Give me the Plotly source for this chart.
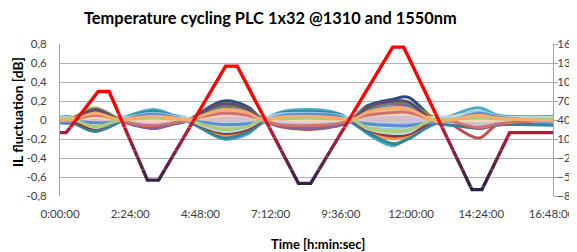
import plotly.graph_objects as go

# ---------------- data ----------------
time_h = [0, 0.4, 1.2, 2.05, 2.5, 3.2, 3.9, 4.4, 4.8, 5.6, 6.4, 6.95,
          7.5, 8.5, 9.5, 9.95, 10.5, 11.4, 11.9, 12.8, 13.2, 14.3, 15.0, 16.85]

il_ch01 = [0.01,0.01,0.11,0.0,0.02,0.03,0.02,0.0,0.08,0.20,0.14,0.01,0.02,0.03,0.02,0.01,0.15,0.22,0.24,0.01,0.01,0.04,0.02,0.01]
il_ch02 = [0.03,0.03,-0.10,0.01,0.06,0.11,0.05,0.01,-0.08,-0.20,-0.15,-0.01,0.08,0.11,0.07,0.0,-0.14,-0.27,-0.18,-0.04,0.02,0.13,0.05,0.04]
il_ch03 = [0.01,0.02,0.13,0.01,0.01,0.02,0.01,0.0,0.07,0.17,0.12,0.01,0.02,0.02,0.01,0.01,0.13,0.19,0.18,0.02,0.02,0.03,0.02,0.02]
il_ch04 = [0.0,0.0,-0.12,0.0,0.03,0.05,0.03,0.0,-0.07,-0.16,-0.12,0.0,0.04,0.05,0.04,0.0,-0.12,-0.20,-0.17,0.0,0.01,0.06,0.03,0.0]
il_ch05 = [-0.01,-0.01,-0.06,-0.01,-0.05,-0.09,-0.04,-0.01,-0.04,-0.10,-0.07,-0.01,-0.07,-0.10,-0.06,-0.01,-0.07,-0.12,-0.11,-0.02,-0.02,-0.19,-0.04,-0.02]
il_ch06 = [-0.02,-0.02,0.09,-0.01,-0.05,-0.08,-0.04,-0.01,0.06,0.14,0.10,-0.01,-0.06,-0.08,-0.06,-0.01,0.11,0.17,0.15,-0.03,-0.03,-0.09,-0.05,-0.03]
il_ch07 = [-0.03,-0.03,0.08,-0.01,0.0,0.0,0.0,-0.01,0.05,0.12,0.08,-0.02,0.0,0.0,0.0,-0.02,0.09,0.14,0.13,-0.03,-0.03,0.0,0.0,-0.03]
il_ch08 = [-0.03,-0.03,-0.12,-0.02,0.05,0.09,0.04,-0.02,-0.08,-0.19,-0.13,-0.02,0.07,0.09,0.06,-0.02,-0.13,-0.25,-0.20,-0.04,-0.05,-0.08,-0.05,-0.055]
il_ch09 = [0.01,0.02,0.11,0.01,-0.02,-0.03,-0.02,0.01,0.06,0.16,0.11,0.01,-0.02,-0.03,-0.02,0.01,0.12,0.19,0.18,0.02,0.02,-0.04,-0.02,0.02]
il_ch10 = [0.02,0.02,0.07,0.01,0.04,0.06,0.03,0.01,0.04,0.10,0.07,0.01,0.05,0.06,0.04,0.01,0.08,0.12,0.11,0.03,0.03,0.08,0.04,0.03]
il_ch11 = [-0.01,-0.01,-0.09,0.0,-0.04,-0.06,-0.03,0.0,-0.06,-0.14,-0.10,-0.01,-0.05,-0.06,-0.04,-0.01,-0.10,-0.17,-0.15,-0.01,-0.01,-0.08,-0.04,-0.01]
il_ch12 = [-0.01,-0.01,0.11,-0.01,-0.03,-0.05,-0.03,-0.01,0.07,0.17,0.12,-0.01,-0.04,-0.05,-0.04,-0.01,0.13,0.20,0.19,-0.02,-0.02,-0.07,-0.03,-0.02]
il_ch13 = [0.0,0.0,0.04,0.0,0.02,0.04,0.02,0.0,0.02,0.06,0.04,0.0,0.03,0.04,0.03,0.0,0.05,0.07,0.07,0.01,0.01,0.05,0.02,0.01]
il_ch14 = [0.0,0.0,0.03,0.0,-0.01,-0.02,-0.01,0.0,0.02,0.04,0.03,0.0,-0.02,-0.02,-0.01,0.0,0.03,0.05,0.04,-0.01,-0.01,-0.03,-0.01,-0.01]
il_ch15 = [0.01,0.01,0.01,0.01,0.01,0.02,0.01,0.01,0.01,0.02,0.01,0.01,0.02,0.02,0.01,0.01,0.02,0.02,0.02,0.02,0.02,0.03,0.01,0.02]
il_ch16 = [-0.01,-0.01,-0.03,0.0,-0.02,-0.03,-0.02,0.0,-0.02,-0.04,-0.03,-0.01,-0.02,-0.03,-0.02,-0.01,-0.03,-0.05,-0.04,-0.01,-0.01,-0.04,-0.02,-0.01]
il_ch17 = [0.01,0.02,-0.05,0.01,0.04,0.07,0.04,0.01,-0.03,-0.08,-0.06,0.01,0.06,0.07,0.05,0.01,-0.06,-0.10,-0.09,0.02,0.02,0.09,0.04,0.02]
il_ch18 = [0.0,0.0,0.05,0.0,0.01,0.01,0.01,0.0,0.03,0.08,0.06,0.0,0.01,0.01,0.01,0.0,0.06,0.10,0.09,0.0,0.0,0.01,0.01,0.0]
il_ch19 = [0.01,0.01,-0.01,0.0,0.02,0.03,0.02,0.0,-0.01,-0.02,-0.01,0.01,0.02,0.03,0.02,0.01,-0.02,-0.02,-0.02,0.01,0.01,0.04,0.02,0.01]
il_ch20 = [0.0,0.0,0.01,0.0,0.0,0.0,0.0,0.0,0.0,0.01,0.01,0.0,0.0,0.0,0.0,0.0,0.01,0.01,0.01,0.0,0.0,0.0,0.0,0.0]
il_ch21 = [0.0,0.0,-0.04,0.0,-0.01,-0.01,-0.01,0.0,-0.02,-0.06,-0.04,0.0,-0.01,-0.01,-0.01,0.0,-0.05,-0.07,-0.07,-0.01,-0.01,-0.01,-0.01,-0.01]
il_ch22 = [-0.01,-0.01,0.02,-0.01,-0.02,-0.04,-0.02,-0.01,0.01,0.03,0.02,-0.01,-0.03,-0.04,-0.03,-0.01,0.02,0.04,0.03,-0.02,-0.02,-0.05,-0.02,-0.02]
il_ch23 = [0.02,0.02,-0.08,0.01,0.03,0.05,0.03,0.01,-0.05,-0.12,-0.08,0.01,0.04,0.05,0.04,0.01,-0.09,-0.14,-0.13,0.03,0.03,0.07,0.03,0.03]
il_ch24 = [0.0,0.0,0.03,0.0,0.0,-0.01,0.0,0.0,0.02,0.05,0.04,0.0,0.0,-0.01,0.0,0.0,0.04,0.06,0.06,0.01,0.01,-0.01,0.0,0.01]
il_ch25 = [-0.01,-0.01,-0.03,-0.01,0.03,0.06,0.03,-0.01,-0.02,-0.05,-0.04,-0.01,0.04,0.06,0.04,-0.01,-0.04,-0.06,-0.06,-0.02,-0.02,0.07,0.03,-0.02]
il_ch26 = [0.0,0.0,0.05,0.0,-0.04,-0.06,-0.03,0.0,0.03,0.07,0.05,0.0,-0.05,-0.06,-0.04,0.0,0.05,0.08,0.08,0.0,0.0,-0.08,-0.04,0.0]
il_ch27 = [0.01,0.01,-0.07,0.0,0.01,0.02,0.01,0.0,-0.04,-0.10,-0.07,0.01,0.01,0.02,0.01,0.01,-0.08,-0.12,-0.11,0.01,0.01,0.02,0.01,0.01]
il_ch28 = [0.0,0.0,0.07,0.0,0.02,0.04,0.02,0.0,0.04,0.11,0.08,0.0,0.03,0.04,0.02,0.0,0.08,0.13,0.12,-0.01,-0.01,0.05,0.02,-0.01]

channel_colors = ['#2C4D75', '#4BACC6', '#9BBB59', '#F79646', '#C0504D', '#8064A2',
                  '#4F81BD', '#31859C', '#77933C', '#E46C0A', '#953735', '#5F497A',
                  '#95B3D7', '#D99694', '#C3D69B', '#B3A2C7', '#93CDDD', '#FAC090',
                  '#B9CDE5', '#E6B9B8', '#D7E4BD', '#CCC1DA', '#B7DEE8', '#FCD5B5',
                  '#558ED5', '#CD7371', '#AFC97A', '#F9AB6B']

temp_time_h = [0, 0.21, 1.31, 1.68, 2.99, 3.37, 5.66, 6.06, 8.15, 8.57, 11.37, 11.75, 14.08, 14.42, 15.37, 16.85]
temp_c = [20, 20, 85, 85, -55, -55, 125, 125, -60, -60, 155, 155, -70, -70, 20, 20]

x_tickvals = [0, 2.4, 4.8, 7.2, 9.6, 12.0, 14.4, 16.8]
x_ticktext = ["0:00:00", "2:24:00", "4:48:00", "7:12:00", "9:36:00", "12:00:00", "14:24:00", "16:48:00"]
y_tickvals = [-0.8, -0.6, -0.4, -0.2, 0, 0.2, 0.4, 0.6, 0.8]
y_ticktext = ["-0,8", "-0,6", "-0,4", "-0,2", "0", "0,2", "0,4", "0,6", "0,8"]
y2_tickvals = [-80, -50, -20, 10, 40, 70, 100, 130, 160]

# colour bands of the temperature line (in degC) -> gradient look
band_edges = [160, 50, 38, 28, 12, 2, -8, -18, -28, -38, -50, -65, -80]
band_colors = ['#FF0000', '#EE0A18', '#D01428', '#B01C38', '#9E1E3C', '#8C1F3E',
               '#7A2040', '#682242', '#582344', '#482446', '#362447', '#2A2448']

channels = [il_ch01, il_ch02, il_ch03, il_ch04, il_ch05, il_ch06, il_ch07, il_ch08,
            il_ch09, il_ch10, il_ch11, il_ch12, il_ch13, il_ch14, il_ch15, il_ch16,
            il_ch17, il_ch18, il_ch19, il_ch20, il_ch21, il_ch22, il_ch23, il_ch24,
            il_ch25, il_ch26, il_ch27, il_ch28]

# ---------------- figure ----------------
# page body has an 8px default margin -> figure is 8px smaller and positions shifted
FONT = "Lato, 'Open Sans', sans-serif"
W, H = 569, 244
ML, MR, MT, MB = 52, 24, 36, 56
PW, PH = W - ML - MR, H - MT - MB

fig = go.Figure()

for vals, col in zip(channels, channel_colors):
    fig.add_trace(go.Scatter(x=time_h, y=vals, mode='lines',
                             line=dict(color=col, width=3, shape='spline', smoothing=1.0),
                             showlegend=False, hoverinfo='skip', xaxis='x', yaxis='y'))

# invisible trace to activate right axis
fig.add_trace(go.Scatter(x=temp_time_h, y=temp_c, mode='lines',
                         line=dict(color='rgba(0,0,0,0)', width=0),
                         showlegend=False, hoverinfo='skip', xaxis='x', yaxis='y2'))

T_MIN, T_MAX = -80, 160
layout_extra = {}
for i in range(len(band_colors)):
    hi, lo = band_edges[i], band_edges[i + 1]
    ax_name = 'yaxis%d' % (i + 3)
    ref = 'y%d' % (i + 3)
    layout_extra[ax_name] = dict(domain=[(lo - T_MIN) / (T_MAX - T_MIN), (hi - T_MIN) / (T_MAX - T_MIN)],
                                 range=[lo, hi], anchor='x', visible=False, fixedrange=True)
    fig.add_trace(go.Scatter(x=temp_time_h, y=temp_c, mode='lines',
                             line=dict(color=band_colors[i], width=3.4),
                             showlegend=False, hoverinfo='skip', xaxis='x', yaxis=ref))

fig.update_layout(
    width=W, height=H,
    margin=dict(l=ML, r=MR, t=MT, b=MB),
    paper_bgcolor='white', plot_bgcolor='rgba(0,0,0,0)',
    showlegend=False,
    font=dict(family=FONT, color='#404040', size=12),
    xaxis=dict(range=[0, 16.85], tickvals=x_tickvals, ticktext=x_ticktext,
               showgrid=False, zeroline=False, showline=False,
               ticks='', ticklabelstandoff=9,
               tickfont=dict(size=11.5, color='#404040'), automargin=False),
    yaxis=dict(domain=[0, 1], range=[-0.8, 0.8], tickvals=y_tickvals, ticktext=y_ticktext,
               showgrid=True, gridcolor='#B4B4B4', gridwidth=1, zeroline=False,
               showline=True, linecolor='#A6A6A6', linewidth=1,
               ticks='', ticklabelstandoff=10,
               tickfont=dict(size=11.5, color='#404040'), automargin=False),
    yaxis2=dict(range=[-80, 160], tickvals=y2_tickvals, overlaying='y', side='right',
                anchor='x', showgrid=False, zeroline=False,
                showline=True, linecolor='#A6A6A6', linewidth=1,
                ticks='outside', ticklen=4, tickcolor='#A6A6A6', ticklabelstandoff=-3,
                tickfont=dict(size=11.5, color='#404040'), automargin=False),
    **layout_extra,
)

# title / axis titles positioned in pixels relative to the plot area
def px_x(px):
    return (px - ML) / PW

def px_y(py):
    return (H - MB - py) / PH

fig.add_annotation(text="<b>Temperature cycling PLC 1x32 @1310 and 1550nm</b>",
                   xref='paper', yref='paper', x=px_x(262), y=px_y(9),
                   xanchor='center', yanchor='middle', showarrow=False,
                   font=dict(family=FONT, size=16.4, color='#000000'))
fig.add_annotation(text="<b>Time [h:min:sec]</b>",
                   xref='paper', yref='paper', x=px_x(310), y=px_y(236),
                   xanchor='center', yanchor='middle', showarrow=False,
                   font=dict(family=FONT, size=13, color='#000000'))
fig.add_annotation(text="<b>IL fluctuation [dB]</b>", textangle=-90,
                   xref='paper', yref='paper', x=px_x(10), y=px_y(104),
                   xanchor='center', yanchor='middle', showarrow=False,
                   font=dict(family=FONT, size=13.8, color='#000000'))

fig.write_html("out.html")
